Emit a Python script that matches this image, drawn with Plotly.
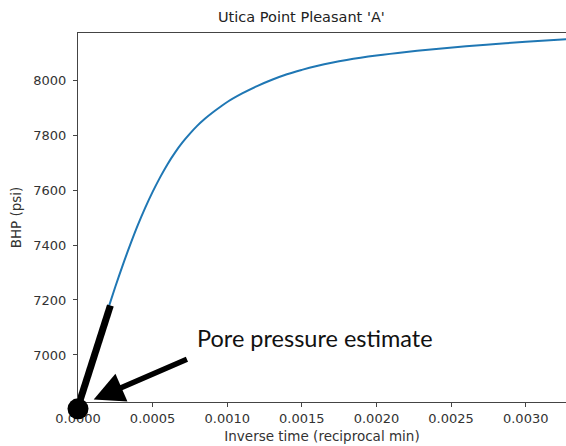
import plotly.graph_objects as go

# Data
inv_time = [0.00007, 0.00010, 0.00015, 0.00020, 0.00025, 0.00030, 0.00035, 0.00040,
            0.00045, 0.00050, 0.00055, 0.00060, 0.00065, 0.00070, 0.00075, 0.00080,
            0.00085, 0.00090, 0.00095, 0.00100, 0.00110, 0.00120, 0.00130, 0.00140,
            0.00150, 0.00160, 0.00170, 0.00180, 0.00200, 0.00220, 0.00240, 0.00260,
            0.00280, 0.00300, 0.00330]
bhp = [6931, 6987, 7078, 7165, 7248, 7327, 7401, 7471,
       7535, 7593, 7646, 7694, 7736, 7773, 7805, 7834,
       7859, 7881, 7901, 7920, 7951, 7978, 8001, 8021,
       8037, 8051, 8063, 8073, 8089, 8102, 8113, 8123,
       8131, 8139, 8149]

x_ticks = [0.0, 0.0005, 0.0010, 0.0015, 0.0020, 0.0025, 0.0030]
y_ticks = [7000, 7200, 7400, 7600, 7800, 8000]
x_range = [0, 0.003270]
y_range = [6829, 8171]

# Annotation overlay (data coordinates)
dot_x, dot_y = 0.0, 6804
tangent_x = [0.0, 0.000217]
tangent_y = [6812, 7180]
arrow_head = (0.000105, 6838)
arrow_tail = (0.000740, 6987)
label_text = "Pore pressure estimate"
label_pos = (0.00159, 7060)

fig = go.Figure()
fig.add_trace(go.Scatter(x=inv_time, y=bhp, mode="lines",
                         line=dict(color="#1f77b4", width=2, shape="spline", smoothing=1),
                         showlegend=False))
fig.add_trace(go.Scatter(x=tangent_x, y=tangent_y, mode="lines", line=dict(color="black", width=7),
                         showlegend=False))

# black dot (drawn as a paper-anchored circle so it is not clipped by the axes)
dot_px = (dot_x - x_range[0]) / (x_range[1] - x_range[0])
dot_py = (dot_y - y_range[0]) / (y_range[1] - y_range[0])
fig.add_shape(type="circle", xref="paper", yref="paper", xsizemode="pixel", ysizemode="pixel",
              xanchor=dot_px, yanchor=dot_py, x0=-10.5, x1=10.5, y0=-10.5, y1=10.5,
              fillcolor="black", line=dict(width=0), layer="above")

fig.add_annotation(x=arrow_head[0], y=arrow_head[1], ax=arrow_tail[0], ay=arrow_tail[1],
                   xref="x", yref="y", axref="x", ayref="y", text="", showarrow=True,
                   arrowhead=2, arrowsize=1.1, arrowwidth=5.5, arrowcolor="black", standoff=0)
fig.add_annotation(x=label_pos[0], y=label_pos[1], xref="x", yref="y", text=label_text, showarrow=False,
                   font=dict(family="Lato", size=23.5, color="#111"), xanchor="center", yanchor="middle")
fig.add_annotation(x=(301 - 78) / 488, y=1.043, xref="paper", yref="paper", text="Utica Point Pleasant 'A'",
                   showarrow=False, font=dict(family="DejaVu Sans", size=14.5, color="#222"),
                   xanchor="center", yanchor="middle")

axis_common = dict(showgrid=False, zeroline=False, showline=True, linecolor="#444", linewidth=1,
                   ticks="outside", ticklen=4, tickcolor="#444", tickwidth=1,
                   tickfont=dict(family="DejaVu Sans", size=13, color="#333"))
fig.update_xaxes(range=x_range, tickvals=x_ticks, ticktext=[f"{v:.4f}" for v in x_ticks],
                 mirror=True, ticklabelstandoff=0,
                 title=dict(text="Inverse time (reciprocal min)", standoff=6,
                            font=dict(family="DejaVu Sans", size=13.5, color="#333")),
                 **axis_common)
fig.update_yaxes(range=y_range, tickvals=y_ticks, ticktext=[str(v) for v in y_ticks],
                 mirror=False, ticklabelstandoff=4,
                 title=dict(text="BHP (psi)", standoff=8,
                            font=dict(family="DejaVu Sans", size=13.5, color="#333")),
                 **axis_common)
fig.update_layout(width=566, height=446, margin=dict(l=78, r=0, t=33, b=44),
                  paper_bgcolor="white", plot_bgcolor="white")
fig.write_html("out.html")
